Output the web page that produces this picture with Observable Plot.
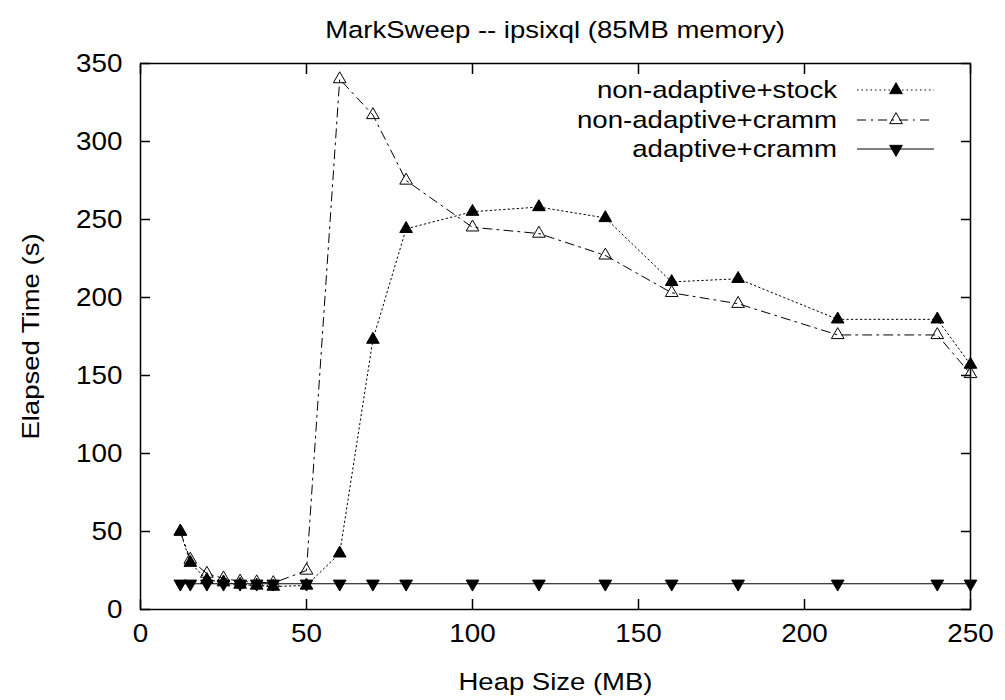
<!DOCTYPE html>
<html>
<head>
<meta charset="utf-8">
<script src="https://cdn.jsdelivr.net/npm/d3@7"></script>
<script src="https://cdn.jsdelivr.net/npm/@observablehq/plot@0.6"></script>
<style>
  html, body { margin: 0; padding: 0; background: #fff; }
  #chart { position: relative; width: 1005px; height: 700px; }
</style>
</head>
<body>
<div id="chart"></div>
<script>
const heapSizes = [12, 15, 20, 25, 30, 35, 40, 50, 60, 70, 80, 100, 120, 140, 160, 180, 210, 240, 250];
const nonAdaptiveStock = [50, 30, 19, 17.5, 16, 15.4, 14.7, 15.4, 36, 173, 244, 255, 258, 251, 210, 212, 186, 186, 157];
const nonAdaptiveCramm = [50, 32, 23, 20, 18, 17.5, 17, 25, 340, 317, 275, 245, 241, 227, 203, 196, 176, 176, 151];
const adaptiveCramm = [16.5, 16.5, 16.5, 16.5, 16.5, 16.5, 16.5, 16.5, 16.5, 16.5, 16.5, 16.5, 16.5, 16.5, 16.5, 16.5, 16.5, 16.5, 16.5];
const seriesNames = ["non-adaptive+stock", "non-adaptive+cramm", "adaptive+cramm"];
const xTicks = [0, 50, 100, 150, 200, 250];
const yTicks = [0, 50, 100, 150, 200, 250, 300, 350];
const titleText = "MarkSweep -- ipsixql (85MB memory)";
const xLabel = "Heap Size (MB)";
const yLabel = "Elapsed Time (s)";

const seriesValues = [nonAdaptiveStock, nonAdaptiveCramm, adaptiveCramm];
const styles = [
  {dash: "1.5,3", fill: "black", rotate: 0},
  {dash: "9,5,2,5", fill: "none", rotate: 0},
  {dash: null, fill: "black", rotate: 180}
];
const rows = seriesNames.map((name, i) => heapSizes.map((x, j) => ({series: name, x, y: seriesValues[i][j]})));

const FONT = "Liberation Sans, Arial, Helvetica, sans-serif";
const TICK_FS = 26.5, TICK_SX = 1.05;
const LABEL_FS = 23.5, LABEL_SX = 1.17;
const LEG_FS = 24, LEG_SX = 1.15;
const TITLE_FS = 23.5, TITLE_SX = 1.17;
const R = 4.7;

const marks = [];
rows.forEach((data, i) => {
  const s = styles[i];
  marks.push(Plot.line(data, {x: "x", y: "y", stroke: "black", strokeWidth: 1, strokeDasharray: s.dash}));
});
rows.forEach((data, i) => {
  const s = styles[i];
  marks.push(Plot.dot(data, {x: "x", y: "y", symbol: "triangle", r: R, fill: s.fill, stroke: "black", strokeWidth: 1, rotate: s.rotate}));
});

const chart = Plot.plot({
  width: 1005,
  height: 700,
  marginLeft: 140,
  marginRight: 35,
  marginTop: 63,
  marginBottom: 91,
  style: {fontFamily: FONT, fontSize: TICK_FS + "px", color: "black", background: "white"},
  x: {domain: [0, 250], ticks: xTicks},
  y: {domain: [0, 350], ticks: yTicks},
  marks: [
    ...marks,
    Plot.axisX(xTicks, {anchor: "bottom", tickSize: 0, tickPadding: 14, label: xLabel, labelAnchor: "center", labelOffset: 80, labelArrow: "none"}),
    Plot.axisX(xTicks, {anchor: "bottom", tickSize: -10, tickFormat: () => "", label: null, strokeWidth: 1.5}),
    Plot.axisX(xTicks, {anchor: "top", tickSize: -10, tickFormat: () => "", label: null, strokeWidth: 1.5}),
    Plot.axisY(yTicks, {anchor: "left", tickSize: 0, tickPadding: 18, label: yLabel, labelAnchor: "center", labelOffset: 118, labelArrow: "none"}),
    Plot.axisY(yTicks, {anchor: "left", tickSize: -10, tickFormat: () => "", label: null, strokeWidth: 1.5}),
    Plot.axisY(yTicks, {anchor: "right", tickSize: -10, tickFormat: () => "", label: null, strokeWidth: 1.5}),
    Plot.frame({stroke: "black", strokeWidth: 1.5})
  ]
});

const svg = d3.select(chart);

// horizontally widen text (reference font is wide)
function widen(sel, fs, sx) {
  sel.each(function() {
    const t = d3.select(this);
    t.attr("font-size", fs);
    t.style("font-size", fs + "px");
    const tr = t.attr("transform") || "";
    t.attr("transform", tr + ` scale(${sx},1)`);
  });
}
widen(svg.selectAll('g[aria-label="x-axis tick label"] text, g[aria-label="y-axis tick label"] text'), TICK_FS, TICK_SX);
widen(svg.selectAll('g[aria-label="x-axis label"] text, g[aria-label="y-axis label"] text'), LABEL_FS, LABEL_SX);

svg.append("text")
  .attr("transform", `translate(555,38) scale(${TITLE_SX},1)`)
  .attr("text-anchor", "middle")
  .attr("font-family", FONT).attr("font-size", TITLE_FS)
  .attr("fill", "black")
  .text(titleText);

// legend
const legendY = [90, 120, 149];
seriesNames.forEach((name, i) => {
  const s = styles[i];
  const g = svg.append("g");
  g.append("text")
    .attr("transform", `translate(837,${legendY[i]}) scale(${LEG_SX},1)`)
    .attr("dy", "0.35em")
    .attr("text-anchor", "end")
    .attr("font-family", FONT).attr("font-size", LEG_FS)
    .attr("fill", "black")
    .text(name);
  g.append("line")
    .attr("x1", 857).attr("x2", 934).attr("y1", legendY[i]).attr("y2", legendY[i])
    .attr("stroke", "black").attr("stroke-width", 1)
    .attr("stroke-dasharray", s.dash);
  const sym = d3.symbol(d3.symbolTriangle, Math.PI * R * R)();
  g.append("path")
    .attr("d", sym)
    .attr("transform", `translate(896,${legendY[i]}) rotate(${s.rotate})`)
    .attr("fill", s.fill).attr("stroke", "black").attr("stroke-width", 1);
});

document.getElementById("chart").appendChild(chart);
</script>
</body>
</html>
